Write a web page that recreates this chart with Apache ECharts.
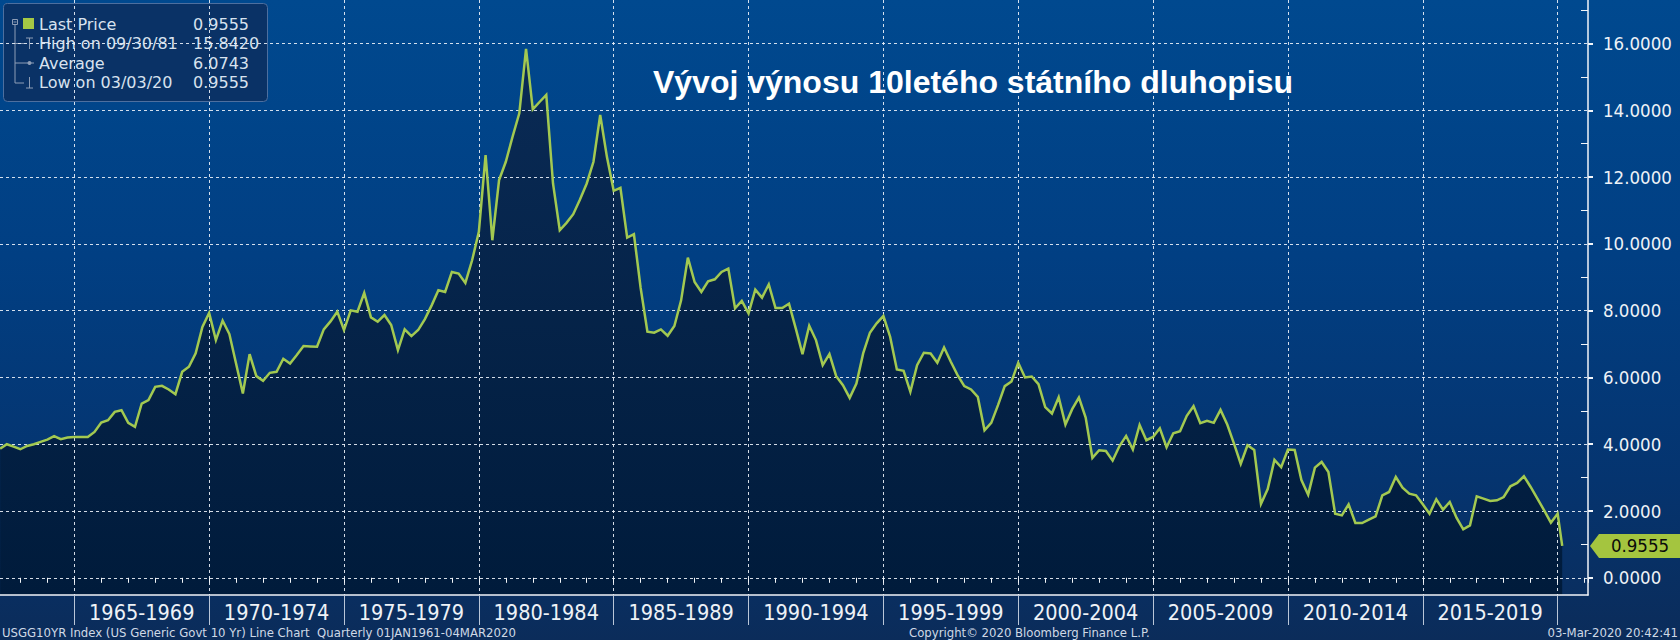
<!DOCTYPE html>
<html>
<head>
<meta charset="utf-8">
<script src="https://cdn.jsdelivr.net/npm/echarts@6/dist/echarts.min.js"></script>
<style>
html,body{margin:0;padding:0;}
#c{width:1680px;height:640px;background:linear-gradient(to bottom,#00498f 0%,#013f83 40%,#05346f 75%,#0b2c5a 100%);}
</style>
</head>
<body>
<div id="c"></div>
<script>
// ---- data (quarter-end 10Y yields) ----
const quarterStart = 1962.25;          // first visible quarter end (Mar 1962)
const yields = [
  3.87, 4.00, 3.93, 3.85,   3.95, 4.00, 4.07, 4.14,          // 1962, 1963
  4.24, 4.15, 4.20, 4.22,   4.22, 4.22, 4.37, 4.65,          // 1964, 1965
  4.72, 4.97, 5.02, 4.64,   4.52, 5.22, 5.32, 5.72,          // 1966, 1967
  5.75, 5.64, 5.50, 6.17,   6.32, 6.72, 7.51, 7.93,          // 1968, 1969
  7.12, 7.70, 7.30, 6.41,   5.52, 6.70, 6.04, 5.90,          // 1970, 1971
  6.14, 6.17, 6.56, 6.42,   6.67, 6.94, 6.93, 6.92,          // 1972, 1973
  7.44, 7.68, 7.97, 7.42,   8.01, 7.97, 8.53, 7.80,          // 1974, 1975
  7.67, 7.87, 7.57, 6.82,   7.44, 7.24, 7.42, 7.75,          // 1976, 1977
  8.16, 8.61, 8.56, 9.16,   9.11, 8.83, 9.51, 10.36,         // 1978, 1979
  12.66, 10.11, 11.91, 12.46,  13.21, 13.91, 15.842, 14.03,  // 1980, 1981
  14.25, 14.46, 11.81, 10.41,  10.63, 10.89, 11.33, 11.81,   // 1982, 1983
  12.46, 13.86, 12.60, 11.59,  11.68, 10.19, 10.29, 8.68,    // 1984, 1985
  7.37, 7.34, 7.44, 7.25,   7.54, 8.31, 9.59, 8.86,          // 1986, 1987
  8.56, 8.88, 8.94, 9.16,   9.26, 8.07, 8.29, 7.92,          // 1988, 1989
  8.63, 8.39, 8.79, 8.08,   8.08, 8.21, 7.47, 6.70,          // 1990, 1991
  7.55, 7.12, 6.37, 6.70,   6.04, 5.77, 5.39, 5.82,          // 1992, 1993
  6.72, 7.34, 7.62, 7.84,   7.22, 6.24, 6.20, 5.57,          // 1994, 1995
  6.37, 6.74, 6.72, 6.44,   6.90, 6.47, 6.07, 5.74,          // 1996, 1997
  5.64, 5.42, 4.42, 4.64,   5.17, 5.74, 5.88, 6.44,          // 1998, 1999
  6.00, 6.03, 5.80, 5.11,   4.92, 5.41, 4.59, 5.05,          // 2000, 2001
  5.40, 4.80, 3.59, 3.82,   3.80, 3.51, 3.94, 4.25,          // 2002, 2003
  3.84, 4.58, 4.12, 4.22,   4.48, 3.91, 4.33, 4.39,          // 2004, 2005
  4.85, 5.14, 4.63, 4.70,   4.64, 5.03, 4.59, 4.02,          // 2006, 2007
  3.41, 3.97, 3.83, 2.21,   2.66, 3.53, 3.31, 3.84,          // 2008, 2009
  3.83, 2.93, 2.49, 3.30,   3.47, 3.17, 1.92, 1.87,          // 2010, 2011
  2.20, 1.64, 1.64, 1.74,   1.84, 2.47, 2.57, 3.02,          // 2012, 2013
  2.70, 2.52, 2.47, 2.20,   1.92, 2.35, 2.04, 2.27,          // 2014, 2015
  1.80, 1.45, 1.57, 2.44,   2.37, 2.30, 2.32, 2.42,          // 2016, 2017
  2.74, 2.84, 3.04, 2.72,   2.37, 2.02, 1.65, 1.92           // 2018, 2019
];
const lastDate = 2020.17;               // 03 Mar 2020
const lastPrice = 0.9555;
const periodStarts = [1965,1970,1975,1980,1985,1990,1995,2000,2005,2010,2015];
const periodLabels = ['1965-1969','1970-1974','1975-1979','1980-1984','1985-1989','1990-1994',
                      '1995-1999','2000-2004','2005-2009','2010-2014','2015-2019'];
const separatorYears = [1965,1970,1975,1980,1985,1990,1995,2000,2005,2010,2015,2020];
const minorYTicks = [1,3,5,7,9,11,13,15,17];
const legendNames = ['Last Price','High on 09/30/81','Average','Low on 03/03/20'];
const legendValues = ['0.9555','15.8420','6.0743','0.9555'];
const titleText = 'Vývoj výnosu 10letého státního dluhopisu';
const footerLeft = 'USGG10YR Index (US Generic Govt 10 Yr) Line Chart  Quarterly 01JAN1961-04MAR2020';
const footerMid = 'Copyright\u00A9 2020 Bloomberg Finance L.P.';
const footerRight = '03-Mar-2020 20:42:41';

// ---- build ----
const points = yields.map((v, i) => [quarterStart + i * 0.25, v]).concat([[lastDate, lastPrice]]);
const X_MIN = 1960, X_MAX = 2021.126;
const narrow = "'Liberation Sans Narrow','Arial Narrow','DejaVu Sans Condensed',sans-serif";
const cond = "'DejaVu Sans Condensed','DejaVu Sans',sans-serif";
const dotted = {color: 'rgba(235,241,248,0.9)', width: 1, type: [3, 3]};

const chart = echarts.init(document.getElementById('c'), null, {renderer: 'svg'});

const legendG = [
  {type:'rect', shape:{x:3.5,y:3.5,width:264,height:98,r:4}, style:{fill:'#0a3266',stroke:'#4d6f9f',lineWidth:1}},
  {type:'rect', shape:{x:12.5,y:19.5,width:5,height:5}, style:{fill:'none',stroke:'#8d9db6',lineWidth:1}},
  {type:'line', shape:{x1:13.5,y1:22,x2:16.5,y2:22}, style:{stroke:'#8d9db6',lineWidth:1}},
  {type:'line', shape:{x1:15,y1:25,x2:15,y2:83}, style:{stroke:'#8d9db6',lineWidth:1}},
  {type:'line', shape:{x1:15,y1:43.5,x2:24,y2:43.5}, style:{stroke:'#8d9db6',lineWidth:1}},
  {type:'line', shape:{x1:26,y1:38,x2:33,y2:38}, style:{stroke:'#8d9db6',lineWidth:1}},
  {type:'line', shape:{x1:29.5,y1:38,x2:29.5,y2:49}, style:{stroke:'#8d9db6',lineWidth:1}},
  {type:'line', shape:{x1:15,y1:63,x2:34,y2:63}, style:{stroke:'#8d9db6',lineWidth:1}},
  {type:'circle', shape:{cx:29.5,cy:63,r:2}, style:{fill:'#8d9db6'}},
  {type:'line', shape:{x1:15,y1:83,x2:24,y2:83}, style:{stroke:'#8d9db6',lineWidth:1}},
  {type:'line', shape:{x1:29.5,y1:77,x2:29.5,y2:88}, style:{stroke:'#8d9db6',lineWidth:1}},
  {type:'line', shape:{x1:26,y1:88,x2:33,y2:88}, style:{stroke:'#8d9db6',lineWidth:1}},
  {type:'rect', shape:{x:23,y:18,width:11,height:11}, style:{fill:'#a4c845'}}
];
legendNames.forEach((n, k) => {
  legendG.push({type:'text', x:39, y:24 + k * 19.6, style:{text:n, fill:'#d8e2ef', fontSize:16, fontFamily:'DejaVu Sans', verticalAlign:'middle', align:'left'}});
  legendG.push({type:'text', x:193, y:24 + k * 19.6, style:{text:legendValues[k], fill:'#d8e2ef', fontSize:16, fontFamily:'DejaVu Sans', verticalAlign:'middle', align:'left'}});
});

const option = {
  animation: false,
  backgroundColor: 'transparent',
  grid: [
    {left: -60.55, right: 92, top: 0, bottom: 45, containLabel: false, outerBoundsMode: 'none'},
    {left: 0, right: 92, top: 43.5, bottom: 62.2, containLabel: false, outerBoundsMode: 'none'}
  ],
  xAxis: [
    {gridIndex:0, type:'value', min:X_MIN, max:X_MAX, interval:5, position:'bottom', z:3,
     axisLine:{show:true, onZero:false, lineStyle:{color:'#f2f5f9', width:1.5}},
     axisTick:{show:true, customValues:separatorYears, length:30, lineStyle:{color:'#b9c6d8', width:1}},
     axisLabel:{show:true, customValues:periodStarts.map(s => s + 2.5),
       formatter: v => periodLabels[Math.round((v - 2.5 - periodStarts[0]) / 5)] || '',
       color:'#eef2f7', fontSize:21.5, fontFamily:narrow, margin:6},
     splitLine:{show:true, lineStyle:dotted}},
    {gridIndex:0, type:'value', min:X_MIN, max:X_MAX, interval:1, position:'bottom', offset:0, z:3,
     axisLine:{show:false}, axisTick:{show:true, length:5, lineStyle:{color:'#f2f5f9', width:1}},
     axisLabel:{show:false}, splitLine:{show:false}},
    {gridIndex:1, type:'value', min:X_MIN, max:X_MAX, show:false}
  ],
  yAxis: [
    {gridIndex:0, type:'value', min:-0.515, max:17.305, position:'right', z:3,
     axisLine:{show:true, onZero:false, lineStyle:{color:'#f2f5f9', width:1.5}},
     axisTick:{show:true, inside:true, customValues:minorYTicks, length:7, lineStyle:{color:'#f2f5f9', width:1}},
     axisLabel:{show:false}, splitLine:{show:false}},
    {gridIndex:1, type:'value', min:0, max:16, interval:2, position:'right', z:3,
     axisLine:{show:false},
     axisTick:{show:true, length:5, lineStyle:{color:'#f2f5f9', width:2}},
     axisLabel:{show:true, formatter: v => v.toFixed(4), color:'#eef2f7', fontSize:18.5, fontFamily:cond, margin:15},
     splitLine:{show:true, lineStyle:dotted}}
  ],
  series: [
    {type:'line', xAxisIndex:0, yAxisIndex:0, data:points, symbol:'none', silent:true, z:1,
     lineStyle:{width:0},
     areaStyle:{origin:'start', opacity:1, color:{type:'linear', x:0, y:0, x2:0, y2:1,
       colorStops:[{offset:0, color:'#0a2b56'}, {offset:1, color:'#001b3b'}]}}},
    {type:'line', xAxisIndex:0, yAxisIndex:0, data:points, symbol:'none', z:5, clip:false,
     lineStyle:{color:'#a3c951', width:2.5, join:'miter'},
     markPoint:{silent:true, symbol:'path://M0,12L9,0L90,0L90,24L9,24Z', symbolSize:[90,24], symbolKeepAspect:false,
       symbolOffset:[47,0], itemStyle:{color:'#a4c53f'},
       label:{show:true, position:'inside', offset:[5,0], color:'#0b0b0b', fontSize:18.5, fontFamily:cond,
         formatter: () => lastPrice.toFixed(4)},
       data:[{coord:[X_MAX, lastPrice]}]}}
  ],
  graphic: legendG.concat([
    {type:'text', x:973, y:82, style:{text:titleText, fill:'#ffffff', fontSize:32, fontWeight:'bold', fontFamily:'Liberation Sans', align:'center', verticalAlign:'middle'}},
    {type:'text', x:2, y:632, style:{text:footerLeft, fill:'#cfd9e6', fontSize:13, fontFamily:narrow, align:'left', verticalAlign:'middle'}},
    {type:'text', x:909, y:632, style:{text:footerMid, fill:'#cfd9e6', fontSize:13, fontFamily:narrow, align:'left', verticalAlign:'middle'}},
    {type:'text', x:1678, y:632, style:{text:footerRight, fill:'#cfd9e6', fontSize:13, fontFamily:narrow, align:'right', verticalAlign:'middle'}}
  ])
};
chart.setOption(option);
</script>
</body>
</html>
